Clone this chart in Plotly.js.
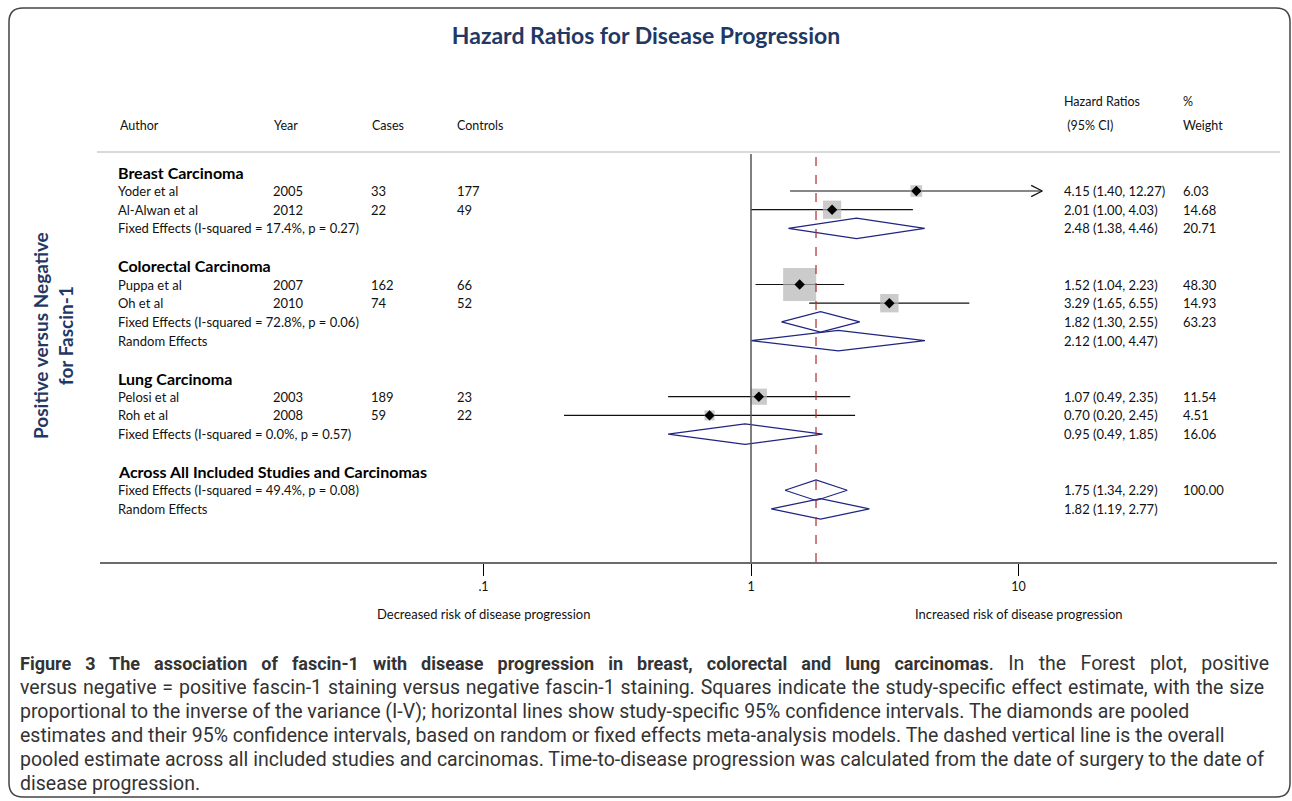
<!DOCTYPE html>
<html>
<head>
<meta charset="utf-8">
<script src="https://cdn.plot.ly/plotly-3.0.1.min.js"></script>
<style>
html,body{margin:0;padding:0;background:#fff;}
#chart{width:1292px;height:801px;}
</style>
</head>
<body>
<div id="chart"></div>
<script>
// ---------------- DATA ----------------
const groups = ["Breast Carcinoma", "Colorectal Carcinoma", "Lung Carcinoma", "Across All Included Studies and Carcinomas"];

const studyGroup    = [0, 0, 1, 1, 2, 2];
const studyAuthor   = ["Yoder et al", "Al-Alwan et al", "Puppa et al", "Oh et al", "Pelosi et al", "Roh et al"];
const studyYear     = ["2005", "2012", "2007", "2010", "2003", "2008"];
const studyCases    = ["33", "22", "162", "74", "189", "59"];
const studyControls = ["177", "49", "66", "52", "23", "22"];
const studyHR       = [4.15, 2.01, 1.52, 3.29, 1.07, 0.70];
const studyLo       = [1.40, 1.00, 1.04, 1.65, 0.49, 0.20];
const studyHi       = [12.27, 4.03, 2.23, 6.55, 2.35, 2.45];
const studyWeight   = [6.03, 14.68, 48.30, 14.93, 11.54, 4.51];
const studyTruncated = [true, false, false, false, false, false];

const pooledGroup  = [0, 1, 1, 2, 3, 3];
const pooledLabel  = ["Fixed Effects (I-squared = 17.4%, p = 0.27)",
                      "Fixed Effects (I-squared = 72.8%, p = 0.06)",
                      "Random Effects",
                      "Fixed Effects (I-squared = 0.0%, p = 0.57)",
                      "Fixed Effects (I-squared = 49.4%, p = 0.08)",
                      "Random Effects"];
const pooledHR     = [2.48, 1.82, 2.12, 0.95, 1.75, 1.82];
const pooledLo     = [1.38, 1.30, 1.00, 0.49, 1.34, 1.19];
const pooledHi     = [4.46, 2.55, 4.47, 1.85, 2.29, 2.77];
const pooledWeight = ["20.71", "63.23", "", "16.06", "100.00", ""];

const overallEstimate = 1.75;

const xTickVals = [0.1, 1, 10];
const xTickText = [".1", "1", "10"];

const captionLines = [
  "<b><span style=\"font-size:18px\">Figure 3 The association of fascin-1 with disease progression in breast, colorectal and lung carcinomas</span></b>. In the Forest plot, positive",
  "versus negative = positive fascin-1 staining versus negative fascin-1 staining. Squares indicate the study-specific effect estimate, with the size",
  "proportional to the inverse of the variance (I-V); horizontal lines show study-specific 95% confidence intervals. The diamonds are pooled",
  "estimates and their 95% confidence intervals, based on random or fixed effects meta-analysis models. The dashed vertical line is the overall",
  "pooled estimate across all included studies and carcinomas. Time-to-disease progression was calculated from the date of surgery to the date of",
  "disease progression."
];

// ---------------- LAYOUT HELPERS ----------------
const W = 1292, H = 801;
const PL = 100, PR = 1277, PT = 153, PB = 562;
const px = x => (x - PL) / (PR - PL);
const py = y => (PB - y) / (PB - PT);

// row assignment from the table structure
const groupRow = [], studyRow = [], pooledRow = [];
let r = 0;
groups.forEach((g, gi) => {
  groupRow[gi] = r++;
  studyGroup.forEach((sg, i) => { if (sg === gi) studyRow[i] = r++; });
  pooledGroup.forEach((pg, j) => { if (pg === gi) pooledRow[j] = r++; });
  r++;
});
const ROW0 = 172.3, ROWH = 18.7;
const yRange = [(PB - ROW0) / ROWH, (PT - ROW0) / ROWH];

const fmt = v => v.toFixed(2);
const hrText = (h, l, u) => fmt(h) + " (" + fmt(l) + ", " + fmt(u) + ")";

const FONT = "Lato, 'Open Sans', sans-serif";
const NAVY = "#1F3864";
const DIA = "#1f2580";

// ---------------- TRACES ----------------
const ciX = [], ciY = [];
studyHR.forEach((h, i) => {
  ciX.push(studyLo[i], studyHi[i], null);
  ciY.push(studyRow[i], studyRow[i], null);
});
const arrowX = [], arrowY = [];
studyHR.forEach((h, i) => {
  if (studyTruncated[i]) {
    arrowX.push(studyHi[i] / 1.1, studyHi[i], studyHi[i] / 1.1, null);
    arrowY.push(studyRow[i] - 0.3, studyRow[i], studyRow[i] + 0.3, null);
  }
});
const diaX = [], diaY = [];
const DH = 0.55;
pooledHR.forEach((h, j) => {
  const rr = pooledRow[j];
  diaX.push(pooledLo[j], h, pooledHi[j], h, pooledLo[j], null);
  diaY.push(rr, rr - DH, rr, rr + DH, rr, null);
});

const traces = [
  {type: "scatter", mode: "lines", x: ciX, y: ciY, line: {color: "#111", width: 1.2}, hoverinfo: "skip", showlegend: false},
  {type: "scatter", mode: "lines", x: arrowX, y: arrowY, line: {color: "#111", width: 1.2}, hoverinfo: "skip", showlegend: false},
  {type: "scatter", mode: "markers", x: studyHR, y: studyRow,
   marker: {symbol: "square", color: "#b5b5b5", size: studyWeight.map(w => 4.75 * Math.sqrt(w)), line: {width: 0}},
   hoverinfo: "skip", showlegend: false},
  {type: "scatter", mode: "markers", x: studyHR, y: studyRow,
   marker: {symbol: "diamond", color: "#000", size: 8}, hoverinfo: "skip", showlegend: false},
  {type: "scatter", mode: "lines", x: diaX, y: diaY, line: {color: DIA, width: 1.2}, hoverinfo: "skip", showlegend: false}
];

// ---------------- ANNOTATIONS ----------------
const ann = [];
const addText = (text, xPx, yref, y, size, opts = {}) => {
  ann.push(Object.assign({
    text: text, x: px(xPx), xref: "paper", y: y, yref: yref,
    xanchor: "left", yanchor: "middle", showarrow: false,
    font: {family: FONT, size: size, color: "#111"}
  }, opts));
};
const COLX = {label: 116, year: 271, cases: 369, controls: 455, hr: 1062, wt: 1181};

// header
addText("Hazard Ratios", COLX.hr, "paper", py(101), 12.5);
addText("%", COLX.wt, "paper", py(101), 12.5);
addText("Author", COLX.label + 2, "paper", py(126), 12.5);
addText("Year", COLX.year + 1, "paper", py(126), 12.5);
addText("Cases", COLX.cases + 1, "paper", py(126), 12.5);
addText("Controls", COLX.controls, "paper", py(126), 12.5);
addText(" (95% CI)", COLX.hr, "paper", py(126), 12.5);
addText("Weight", COLX.wt, "paper", py(126), 12.5);

groups.forEach((g, gi) => addText("<b>" + g + "</b>", COLX.label, "y", groupRow[gi], 16, {font: {family: FONT, size: 16, color: "#000"}}));
studyAuthor.forEach((a, i) => {
  const rr = studyRow[i];
  addText(a, COLX.label, "y", rr, 13);
  addText(studyYear[i], COLX.year, "y", rr, 13);
  addText(studyCases[i], COLX.cases, "y", rr, 13);
  addText(studyControls[i], COLX.controls, "y", rr, 13);
  addText(hrText(studyHR[i], studyLo[i], studyHi[i]), COLX.hr, "y", rr, 13);
  addText(fmt(studyWeight[i]), COLX.wt, "y", rr, 13);
});
pooledLabel.forEach((l, j) => {
  const rr = pooledRow[j];
  addText(l, COLX.label, "y", rr, 13);
  addText(hrText(pooledHR[j], pooledLo[j], pooledHi[j]), COLX.hr, "y", rr, 13);
  if (pooledWeight[j]) addText(pooledWeight[j], COLX.wt, "y", rr, 13);
});

// side label
ann.push({text: "<b>Positive versus Negative<br>for Fascin-1</b>", textangle: -90,
  x: px(53), xref: "paper", y: py(336), yref: "paper", xanchor: "center", yanchor: "middle",
  showarrow: false, font: {family: FONT, size: 19, color: NAVY}});

// axis side captions
ann.push({text: "Decreased risk of disease progression", x: Math.log10(xTickVals[0]), xref: "x",
  y: py(614), yref: "paper", xanchor: "center", yanchor: "middle", showarrow: false,
  font: {family: FONT, size: 13, color: "#111"}});
ann.push({text: "Increased risk of disease progression", x: Math.log10(xTickVals[2]), xref: "x",
  y: py(614), yref: "paper", xanchor: "center", yanchor: "middle", showarrow: false,
  font: {family: FONT, size: 13, color: "#111"}});

// caption
const capY = [663, 687, 711, 735, 759, 783];
captionLines.forEach((t, k) => {
  ann.push({text: t, x: px(18), xref: "paper", y: py(capY[k]), yref: "paper",
    xanchor: "left", yanchor: "middle", showarrow: false,
    font: {family: "Roboto, 'Liberation Sans', sans-serif", size: 19.5, color: "#333"}});
});

// ---------------- SHAPES ----------------
const R = 14, bx0 = 9, by0 = 8, bx1 = 1290, by1 = 797;
const pX = v => px(v).toFixed(5), pY = v => py(v).toFixed(5);
const borderPath = "M " + pX(bx0 + R) + "," + pY(by0) +
  " L " + pX(bx1 - R) + "," + pY(by0) +
  " Q " + pX(bx1) + "," + pY(by0) + " " + pX(bx1) + "," + pY(by0 + R) +
  " L " + pX(bx1) + "," + pY(by1 - R) +
  " Q " + pX(bx1) + "," + pY(by1) + " " + pX(bx1 - R) + "," + pY(by1) +
  " L " + pX(bx0 + R) + "," + pY(by1) +
  " Q " + pX(bx0) + "," + pY(by1) + " " + pX(bx0) + "," + pY(by1 - R) +
  " L " + pX(bx0) + "," + pY(by0 + R) +
  " Q " + pX(bx0) + "," + pY(by0) + " " + pX(bx0 + R) + "," + pY(by0) + " Z";

const shapes = [
  {type: "line", xref: "paper", yref: "paper", x0: px(97), x1: px(1280), y0: py(152), y1: py(152),
   line: {color: "#d9d9d9", width: 2}},
  {type: "line", xref: "x", yref: "paper", x0: 1, x1: 1, y0: 0, y1: py(154), line: {color: "#555", width: 1.5}},
  {type: "line", xref: "x", yref: "paper", x0: overallEstimate, x1: overallEstimate, y0: 0, y1: py(154),
   line: {color: "#b22a2a", width: 1.2, dash: "dash"}},
  {type: "path", xref: "paper", yref: "paper", path: borderPath, line: {color: "#444", width: 1.5}}
];

const layout = {
  width: W, height: H,
  margin: {l: PL, r: W - PR, t: PT, b: H - PB},
  paper_bgcolor: "#fff", plot_bgcolor: "#fff",
  title: {text: "<b>Hazard Ratios for Disease Progression</b>", x: 0.5, xref: "container", xanchor: "center",
    y: 1 - 36 / H, yref: "container", yanchor: "middle",
    font: {family: FONT, size: 23, color: NAVY}},
  xaxis: {type: "log", range: [Math.log10(1) - (751 - PL) / 267.5, (PR - 751) / 267.5],
    tickvals: xTickVals, ticktext: xTickText, ticks: "outside", ticklen: 12, tickwidth: 1, tickcolor: "#000",
    showline: true, linecolor: "#6b6b6b", linewidth: 2, showgrid: false, zeroline: false,
    tickfont: {family: FONT, size: 12.5, color: "#111"}, fixedrange: true},
  yaxis: {range: yRange, visible: false, showgrid: false, zeroline: false, fixedrange: true},
  showlegend: false,
  shapes: shapes,
  annotations: ann
};

// justify a caption line (left edge kept fixed) by widening its word spaces
function justifyLine(t, targetWidth) {
  const n = (t.textContent.match(/ /g) || []).length;
  const w0 = t.getComputedTextLength();
  if (!n || !(w0 > 0) || w0 >= targetWidth) return;
  t.style.wordSpacing = ((targetWidth - w0) / n) + "px";
  const w1 = t.getComputedTextLength();
  const x0 = parseFloat(t.getAttribute("x") || "0");
  t.setAttribute("x", String(x0 + (w1 - w0) / 2));
}

Plotly.newPlot("chart", traces, layout, {displayModeBar: false, staticPlot: true}).then(() => {
  document.querySelectorAll("#chart .annotation-text").forEach(t => {
    const s = t.textContent;
    if (s.indexOf("Figure 3") === 0) justifyLine(t, 1267 - 18);
    else if (s.indexOf("versus negative =") === 0) justifyLine(t, 1262 - 18);
  });
});
</script>
</body>
</html>
